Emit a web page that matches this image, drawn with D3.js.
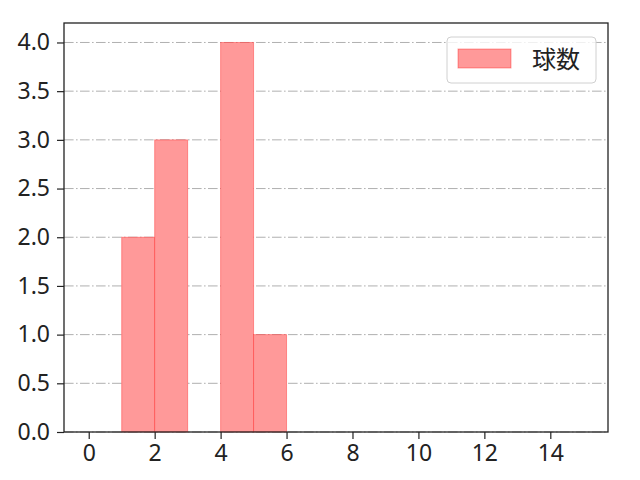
<!DOCTYPE html>
<html>
<head>
<meta charset="utf-8">
<script src="https://cdn.jsdelivr.net/npm/d3@7"></script>
<style>
  body { margin: 0; background: #fff; }
  text { font-family: "Noto Sans CJK JP", "Noto Sans", sans-serif; }
  .tick text { font-family: "Noto Sans", "Noto Sans CJK JP", sans-serif; }
</style>
</head>
<body>
<div id="chart"></div>
<script>
// histogram bins: [start, end) and counts
const binStarts = [1, 2, 4, 5];
const binEnds = [2, 3, 5, 6];
const binCounts = [2, 3, 4, 1];
const xTicks = [0, 2, 4, 6, 8, 10, 12, 14];
const yTicks = [0, 0.5, 1, 1.5, 2, 2.5, 3, 3.5, 4];
const legendLabel = "球数";

const WIDTH = 640;
const HEIGHT = 480;
const MARGIN = { top: 23, right: 32, bottom: 48, left: 64 };

const svg = d3.select("#chart").append("svg")
  .attr("width", WIDTH)
  .attr("height", HEIGHT);

const innerW = WIDTH - MARGIN.left - MARGIN.right;
const innerH = HEIGHT - MARGIN.top - MARGIN.bottom;

const g = svg.append("g")
  .attr("transform", `translate(${MARGIN.left},${MARGIN.top})`);

const x = d3.scaleLinear().domain([-0.75, 15.75]).range([0, innerW]);
const y = d3.scaleLinear().domain([0, 4.2]).range([innerH, 0]);

// grid
g.append("g")
  .selectAll("line")
  .data(yTicks)
  .enter()
  .append("line")
  .attr("x1", 0)
  .attr("x2", innerW)
  .attr("y1", d => y(d))
  .attr("y2", d => y(d))
  .attr("stroke", "#b0b0b0")
  .attr("stroke-width", 1)
  .attr("stroke-dasharray", "9.6,2.4,1.6,2.4");

const bins = binStarts.map((s, i) => ({ x0: s, x1: binEnds[i], count: binCounts[i] }));

g.selectAll(".bar")
  .data(bins)
  .enter()
  .append("rect")
  .attr("class", "bar")
  .attr("x", d => x(d.x0))
  .attr("width", d => x(d.x1) - x(d.x0))
  .attr("y", d => y(d.count))
  .attr("height", d => y(0) - y(d.count))
  .attr("fill", "#ff9999")
  .attr("stroke", "red")
  .attr("stroke-opacity", 0.35)
  .attr("stroke-width", 1);

// axes
const xAxis = g.append("g")
  .attr("transform", `translate(0,${innerH})`)
  .call(d3.axisBottom(x).tickValues(xTicks).tickSize(7).tickPadding(6).tickFormat(d3.format("d")));

const yAxis = g.append("g")
  .call(d3.axisLeft(y).tickValues(yTicks).tickSize(7).tickPadding(7).tickFormat(d3.format(".1f")));

[xAxis, yAxis].forEach(a => {
  a.select(".domain").remove();
  a.selectAll("line").attr("stroke", "#222").attr("stroke-width", 1.2);
  a.selectAll("text").attr("fill", "#222").style("font-size", "23px");
});

// frame
g.append("rect")
  .attr("x", 0)
  .attr("y", 0)
  .attr("width", innerW)
  .attr("height", innerH)
  .attr("fill", "none")
  .attr("stroke", "#222")
  .attr("stroke-width", 1.3);

// legend
const legend = svg.append("g").attr("transform", "translate(447,37)");
legend.append("rect")
  .attr("width", 149)
  .attr("height", 46)
  .attr("rx", 4)
  .attr("fill", "#fff")
  .attr("fill-opacity", 0.8)
  .attr("stroke", "#d0d0d0");
legend.append("rect")
  .attr("x", 11)
  .attr("y", 12)
  .attr("width", 53)
  .attr("height", 19)
  .attr("fill", "#ff9999")
  .attr("stroke", "red")
  .attr("stroke-opacity", 0.35);
legend.append("text")
  .attr("x", 85)
  .attr("y", 31)
  .attr("fill", "#222")
  .style("font-size", "24px")
  .text(legendLabel);
</script>
</body>
</html>
